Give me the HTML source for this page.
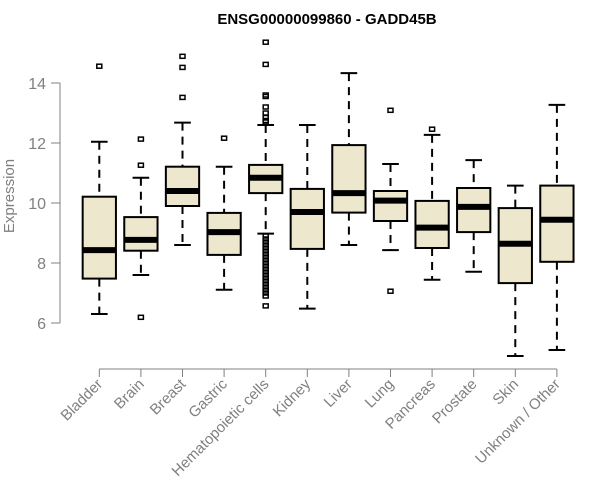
<!DOCTYPE html>
<html><head><meta charset="utf-8"><style>
body{margin:0;background:#fff}
svg{display:block;font-family:"Liberation Sans",Arial,sans-serif}
</style></head><body>
<svg id="chart" width="600" height="500">
<text x="327" y="24" text-anchor="middle" font-weight="bold" font-size="15">ENSG00000099860 - GADD45B</text>
<text transform="translate(14,196) rotate(-90)" text-anchor="middle" font-size="15" fill="#808080">Expression</text>
<g id="axes"></g><g id="boxes"></g>
</svg>
<script>
const categories=["Bladder","Brain","Breast","Gastric","Hematopoietic cells","Kidney","Liver","Lung","Pancreas","Prostate","Skin","Unknown / Other"];
const whiskerLow=[6.3,7.6,8.6,7.11,8.98,6.48,8.6,8.43,7.44,7.71,4.9,5.1];
const q1=[7.48,8.41,9.9,8.27,10.33,8.47,9.68,9.4,8.5,9.03,7.33,8.04];
const medians=[8.43,8.77,10.4,9.03,10.84,9.7,10.33,10.08,9.18,9.87,8.64,9.44];
const q3=[10.21,9.53,11.21,9.67,11.27,10.47,11.93,10.4,10.07,10.5,9.83,10.58];
const whiskerHigh=[12.04,10.84,12.68,11.21,12.6,12.6,14.33,11.3,12.27,11.43,10.58,13.27];
const outliers=[[14.56],[12.13,11.26,6.19],[14.89,14.52,13.52],[12.16],
[15.36,14.62,13.6,13.55,13.2,13.0,12.85,12.75,12.7,8.9,8.8,8.7,8.6,8.5,8.4,8.3,8.2,8.1,8.0,7.9,7.8,7.7,7.6,7.5,7.4,7.3,7.2,7.1,7.0,6.9,6.57],
[],[],[13.09,7.06],[12.46],[],[],[]];
const yTicks=[6,8,10,12,14];
const NS="http://www.w3.org/2000/svg";
const step=41.6,left=78.5;
function xs(i){return left+(i+0.5)*step;}
function ys(v){return 323-(v-6)*30;}
function mk(tag,attrs,parent){const e=document.createElementNS(NS,tag);for(const k in attrs)e.setAttribute(k,attrs[k]);parent.appendChild(e);return e;}
const axes=document.getElementById('axes'),boxes=document.getElementById('boxes');
const gray="#808080";
const ya=mk('line',{x1:60,x2:60,y1:ys(yTicks[0]),y2:ys(yTicks[yTicks.length-1]),stroke:gray},axes);


yTicks.forEach(t=>{
 const l=mk('line',{x1:51,x2:60,y1:ys(t),y2:ys(t),stroke:gray},axes);
 
 
 const tx=mk('text',{x:46,y:ys(t)+6,'text-anchor':'end','font-size':16,fill:gray},axes);
 tx.textContent=t;
 
 
});
const xa=mk('line',{x1:xs(0),x2:xs(categories.length-1),y1:369,y2:369,stroke:gray},axes);


const bw=0.8*step;
categories.forEach((c,i)=>{
 const x=xs(i);
 const tk=mk('line',{x1:x,x2:x,y1:369,y2:377,stroke:gray},axes);
 
 
 const lb=mk('text',{transform:`translate(${x+4},385) rotate(-45)`,'text-anchor':'end','font-size':15,fill:gray},axes);
 lb.textContent=c;
 
 
 const g=mk('g',{},boxes);
 
 
 mk('line',{x1:x,x2:x,y1:ys(whiskerHigh[i]),y2:ys(q3[i]),stroke:'#000','stroke-width':2,'stroke-dasharray':'8,6'},g);
 mk('line',{x1:x,x2:x,y1:ys(q1[i]),y2:ys(whiskerLow[i]),stroke:'#000','stroke-width':2,'stroke-dasharray':'8,6'},g);
 mk('line',{x1:x-bw/4,x2:x+bw/4,y1:ys(whiskerHigh[i]),y2:ys(whiskerHigh[i]),stroke:'#000','stroke-width':2},g);
 mk('line',{x1:x-bw/4,x2:x+bw/4,y1:ys(whiskerLow[i]),y2:ys(whiskerLow[i]),stroke:'#000','stroke-width':2},g);
 mk('rect',{x:x-bw/2,y:ys(q3[i]),width:bw,height:ys(q1[i])-ys(q3[i]),fill:'#ede7cd',stroke:'#000','stroke-width':2},g);
 mk('line',{x1:x-bw/2,x2:x+bw/2,y1:ys(medians[i]),y2:ys(medians[i]),stroke:'#000','stroke-width':6},g);
 outliers[i].forEach(v=>{
  const o=mk('rect',{x:x-2.5,y:ys(v)-2,width:5,height:4,fill:'none',stroke:'#000','stroke-width':1.5},g);
  
  
 });
});
</script>
</body></html>
